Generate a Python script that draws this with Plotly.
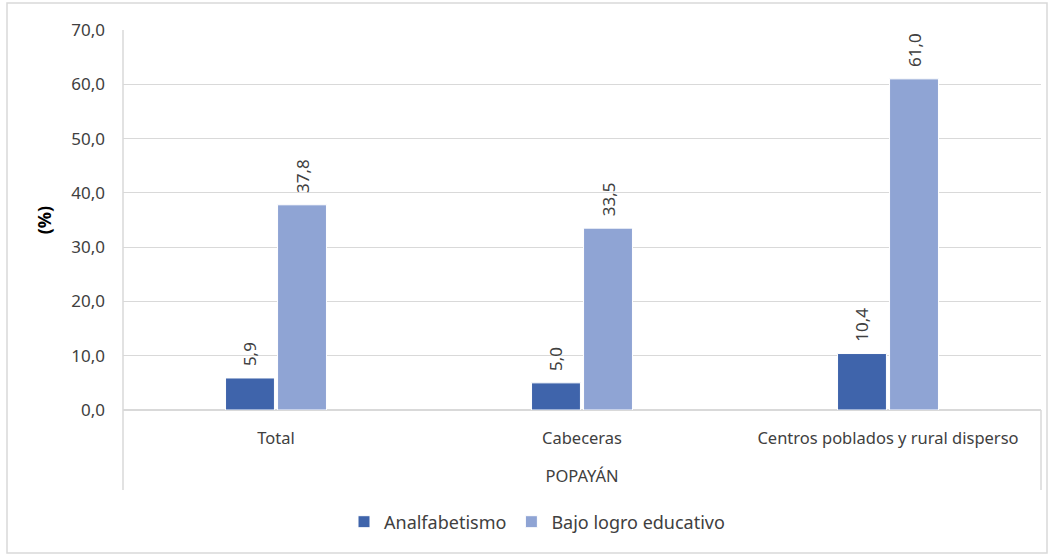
import plotly.graph_objects as go

categories = ["Total", "Cabeceras", "Centros poblados y rural disperso"]
analfabetismo = [5.9, 5.0, 10.4]
bajo_logro = [37.8, 33.5, 61.0]
y_ticks = [0, 10, 20, 30, 40, 50, 60, 70]
group_label = "POPAYÁN"

W, H = 1052, 556
L, R, T, B = 123, 11, 30, 146
pw, ph = W - L - R, H - T - B

def px(x):
    return (x - L) / pw

def py(y):
    return (H - B - y) / ph

font = "Noto Sans, Open Sans, sans-serif"
txt = "#404040"
label_tpl = "\u00a0\u00a0%{y:.1f}"

fig = go.Figure()
fig.add_trace(go.Bar(
    x=categories, y=analfabetismo, name="Analfabetismo",
    marker=dict(color="#3F64AB", line=dict(color="white", width=1)),
    texttemplate=label_tpl, textposition="outside", textangle=-90,
    textfont=dict(size=17, color=txt, family=font), cliponaxis=False,
))
fig.add_trace(go.Bar(
    x=categories, y=bajo_logro, name="Bajo logro educativo",
    marker=dict(color="#8FA4D4", line=dict(color="white", width=1)),
    texttemplate=label_tpl, textposition="outside", textangle=-90,
    textfont=dict(size=17, color=txt, family=font), cliponaxis=False,
))

shapes = [
    dict(type="rect", xref="paper", yref="paper",
         x0=px(7), x1=px(1047), y0=py(553), y1=py(3),
         line=dict(color="#D9D9D9", width=1.5), layer="below"),
    dict(type="line", xref="paper", yref="paper",
         x0=0, x1=0, y0=1, y1=py(490), line=dict(color="#D9D9D9", width=1.5)),
    dict(type="line", xref="paper", yref="paper",
         x0=1, x1=1, y0=0, y1=py(490), line=dict(color="#D9D9D9", width=1.5)),
]

fig.update_layout(
    width=W, height=H,
    margin=dict(l=L, r=R, t=T, b=B),
    paper_bgcolor="white", plot_bgcolor="white",
    separators=",.",
    barmode="group", bargap=0.66, bargroupgap=0.06,
    font=dict(family=font, size=16, color=txt),
    shapes=shapes,
    showlegend=True,
    legend=dict(orientation="h", x=px(537), xanchor="center",
                y=py(522), yanchor="middle",
                font=dict(size=18, color=txt, family=font),
                itemwidth=30, traceorder="normal"),
    xaxis=dict(showgrid=False, showline=False, ticks="",
               ticklabelstandoff=16,
               tickfont=dict(size=16.5, color=txt),
               title=dict(text=group_label, standoff=22,
                          font=dict(size=16.5, color=txt))),
    yaxis=dict(range=[0, 70], tickvals=y_ticks, tickformat=".1f",
               showgrid=True, gridcolor="#D9D9D9", gridwidth=1,
               zeroline=True, zerolinecolor="#D9D9D9", zerolinewidth=1.5,
               showline=False, ticks="", ticklabelstandoff=17,
               tickfont=dict(size=17, color=txt),
               title=dict(text="<b>(%)</b>", standoff=14,
                          font=dict(size=18, color="#000000"))),
)

fig.write_html("out.html", post_script="document.body.style.margin='0';",
               config={"displayModeBar": False})
